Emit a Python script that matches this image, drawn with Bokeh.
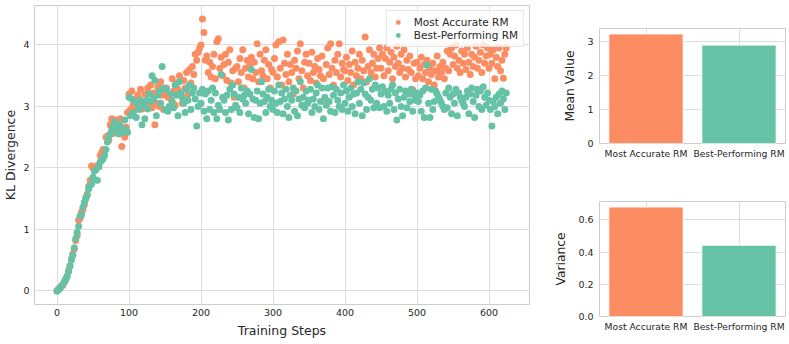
from bokeh.plotting import figure
from bokeh.layouts import row, column
from bokeh.models import Range1d, FactorRange, FixedTicker, Legend, LegendItem, PrintfTickFormatter, ColumnDataSource
from bokeh.embed import file_html
from bokeh.resources import INLINE

# ---------------- data ----------------
# KL divergence logged every 2 training steps (0, 2, ..., 624)
steps = list(range(0, 626, 2))

most_accurate_kl = [
0.00,0.03,0.05,0.08,0.09,0.15,0.18,0.24,0.33,0.41,0.52,0.60,0.68,0.82,0.90,1.15,1.18,1.28,1.32,1.40,1.52,1.58,1.70,1.80,2.03,
2.00,1.98,2.00,2.04,2.02,2.20,2.25,2.30,2.28,2.50,2.52,2.45,2.70,2.80,2.56,2.60,2.78,2.65,2.75,2.80,2.35,2.62,2.50,2.66,2.90,
3.20,2.95,3.25,3.02,2.98,3.08,3.18,3.12,3.28,2.96,3.02,3.20,2.98,3.30,3.05,3.35,2.98,3.22,2.70,3.05,3.32,3.00,3.40,3.18,2.95,
3.22,3.30,3.15,3.00,3.12,3.45,3.25,3.02,3.38,3.28,3.50,3.22,3.05,3.42,3.30,3.55,3.20,3.60,3.38,3.65,3.52,3.85,3.75,3.88,3.95,
4.00,4.42,4.20,3.75,3.82,3.55,3.72,3.48,3.65,3.85,3.45,4.05,4.10,3.62,3.80,3.50,3.68,3.85,3.42,3.72,3.92,3.38,3.58,3.15,3.62,
3.65,3.40,3.78,3.55,3.92,3.30,3.62,3.75,3.48,3.68,3.80,3.45,3.72,3.55,4.02,3.40,3.85,3.58,3.50,3.75,3.92,3.45,3.68,3.30,3.60,
3.55,3.78,4.00,3.48,4.05,3.62,3.35,4.08,3.70,3.52,3.85,3.40,3.68,3.55,3.20,3.75,3.62,3.90,3.45,4.02,3.58,3.30,3.72,3.85,3.50,
3.70,3.42,3.88,3.55,3.65,3.38,3.78,3.60,3.50,3.82,3.45,3.13,3.68,3.95,3.52,4.02,3.62,3.35,3.75,3.55,3.85,4.02,3.48,3.70,3.60,
3.58,3.80,3.42,3.68,3.55,3.90,3.35,3.72,3.50,3.62,3.85,3.45,3.75,3.58,4.13,3.40,3.65,3.92,3.55,3.70,3.85,3.48,3.62,3.78,3.95,
3.62,3.85,3.50,3.78,3.95,3.58,3.72,3.88,3.45,3.80,3.65,3.98,3.70,3.55,3.85,3.62,3.92,3.48,3.75,3.60,3.82,3.55,3.27,3.70,3.45,
3.72,3.50,3.62,3.80,3.45,3.68,3.55,3.75,3.40,3.62,3.52,3.70,3.35,3.58,3.82,3.48,3.65,3.55,3.72,3.45,3.62,3.90,3.58,3.85,3.95,
3.68,3.82,4.00,3.62,3.75,3.55,3.90,3.70,3.85,3.60,3.95,3.72,3.52,3.85,3.65,3.80,3.98,3.62,3.75,3.88,3.55,4.00,3.70,3.82,3.95,
3.62,3.85,3.70,3.92,3.45,3.80,3.65,3.95,3.58,3.75,3.46,3.85,3.95,
]

best_performing_kl = [
0.00,0.02,0.04,0.07,0.10,0.14,0.19,0.24,0.31,0.40,0.50,0.58,0.70,0.85,0.95,1.05,1.22,1.24,1.36,1.44,1.50,1.55,1.66,1.72,1.74,
1.85,1.95,1.97,1.80,2.02,2.10,2.12,2.15,2.20,2.30,2.42,2.50,2.55,2.62,2.66,2.75,2.60,2.70,2.55,2.68,2.58,2.60,2.78,2.62,2.58,
3.15,2.85,3.12,2.90,3.08,2.82,3.05,2.95,3.10,2.70,3.02,2.80,3.10,2.96,3.20,3.08,3.50,3.12,3.42,2.85,3.18,3.25,3.05,3.65,3.30,
2.95,3.28,2.92,3.00,3.20,3.08,2.98,3.35,3.18,2.85,3.40,3.22,3.15,3.05,2.90,3.28,3.10,3.35,2.95,3.22,3.30,3.12,2.68,3.00,3.22,
3.05,3.28,2.92,3.20,2.80,3.25,2.95,3.10,3.30,2.90,3.22,2.80,3.02,2.95,3.52,3.15,3.10,2.90,3.18,2.78,3.28,2.95,3.35,3.20,3.02,
2.98,3.15,2.90,3.30,3.12,3.18,3.05,3.25,2.88,3.20,3.60,3.12,2.82,3.10,3.25,2.80,3.05,3.40,3.20,3.08,2.90,3.15,3.28,3.00,3.10,
2.95,3.25,3.05,2.90,3.35,3.08,3.22,2.88,3.12,3.28,3.00,2.82,3.18,3.10,3.30,2.92,3.25,2.85,3.12,3.40,3.02,3.15,2.98,3.25,3.05,
3.10,3.28,2.90,3.12,3.00,3.22,3.35,2.95,3.08,3.30,2.80,3.15,3.02,3.30,3.08,2.92,3.32,3.18,2.90,3.28,3.10,3.00,3.22,2.95,3.35,
3.05,3.25,2.92,3.15,3.30,3.00,3.20,2.88,3.22,3.40,3.05,3.28,2.85,3.38,3.20,2.95,3.15,3.45,3.10,3.28,2.98,3.35,3.05,3.30,2.98,
3.20,3.32,3.00,3.25,2.92,3.18,3.05,3.28,3.35,2.95,3.22,2.78,3.12,3.28,3.00,2.85,3.15,3.25,2.98,3.20,3.08,3.28,2.92,3.18,3.10,
3.22,3.08,3.18,2.92,3.25,2.82,3.30,3.67,3.05,2.82,3.28,2.95,3.08,3.25,3.20,3.15,3.10,3.05,3.00,2.95,3.22,2.98,3.30,3.15,2.88,
3.20,3.05,3.28,2.85,3.22,3.15,3.10,3.05,3.00,3.15,3.25,2.88,3.20,3.30,3.08,2.82,3.18,3.28,3.00,3.25,2.95,3.32,3.15,3.02,3.22,
3.10,2.95,2.68,3.08,3.00,3.15,2.88,3.20,3.05,3.25,3.12,2.95,3.22,
]

x_ticks = [0, 100, 200, 300, 400, 500, 600]
y_ticks = [0, 1, 2, 3, 4]

categories = ["Most Accurate RM", "Best-Performing RM"]
mean_values = [3.23, 2.90]
variance_values = [0.68, 0.443]
mean_ticks = [0, 1, 2, 3]
variance_ticks = [0.0, 0.2, 0.4, 0.6]

ORANGE = "#fc8d62"
GREEN = "#66c2a5"
bar_colors = [ORANGE, GREEN]

FONT = "DejaVu Sans"
TXT = "#262626"
GRID = "#dddddd"
EDGE = "#cccccc"


def style(p, tick_size="9.5px", label_size="12.5px"):
    p.background_fill_color = "white"
    p.border_fill_color = "white"
    p.outline_line_color = EDGE
    p.outline_line_width = 1
    for ax in p.xaxis + p.yaxis:
        ax.axis_line_color = None
        ax.major_tick_line_color = None
        ax.minor_tick_line_color = None
        ax.major_tick_out = 0
        ax.major_tick_in = 0
        ax.minor_tick_out = 0
        ax.minor_tick_in = 0
        ax.major_label_text_font = FONT
        ax.major_label_text_font_size = tick_size
        ax.major_label_text_color = TXT
        ax.axis_label_text_font = FONT
        ax.axis_label_text_font_size = label_size
        ax.axis_label_text_font_style = "normal"
        ax.axis_label_text_color = TXT
        ax.major_label_standoff = 6
        ax.axis_label_standoff = 6
    for g in p.xgrid + p.ygrid:
        g.grid_line_color = GRID
        g.grid_line_width = 1


# ---------------- left scatter ----------------
n = min(len(steps), len(most_accurate_kl), len(best_performing_kl))
p = figure(width=532, height=344, x_range=Range1d(-31.25, 656.25), y_range=Range1d(-0.221, 4.641),
           output_backend="svg", toolbar_location=None,
           min_border_left=30, min_border_right=3, min_border_top=5, min_border_bottom=40)
style(p)
p.xaxis.ticker = FixedTicker(ticks=x_ticks)
p.yaxis.ticker = FixedTicker(ticks=y_ticks)
p.xaxis.axis_label = "Training Steps"
p.yaxis.axis_label = "KL Divergence"
p.xaxis.major_label_standoff = 4
p.xaxis.axis_label_standoff = 4
p.yaxis.major_label_standoff = 5
p.yaxis.axis_label_standoff = 2

r1 = p.scatter(steps[:n], most_accurate_kl[:n], size=7, fill_color=ORANGE, line_color=None)
r2 = p.scatter(steps[:n], best_performing_kl[:n], size=7, fill_color=GREEN, line_color=None)

legend = Legend(items=[LegendItem(label="Most Accurate RM", renderers=[r1]),
                       LegendItem(label="Best-Performing RM", renderers=[r2])],
                location="top_right")
legend.label_text_font = FONT
legend.label_text_font_size = "10.5px"
legend.label_text_color = TXT
legend.glyph_width = 12
legend.glyph_height = 12
legend.label_height = 12
legend.label_standoff = 10
legend.padding = 5
legend.spacing = 1
legend.margin = 5
legend.border_line_color = EDGE
legend.background_fill_alpha = 0.8
p.add_layout(legend)


# ---------------- right bars ----------------
def bar_fig(values, ticks, label, height, top_border, bottom_border, ymax, fmt=None):
    src = ColumnDataSource(dict(cat=categories, val=values, color=bar_colors))
    b = figure(width=257, height=height, x_range=FactorRange(factors=categories), y_range=Range1d(0, ymax),
               output_backend="svg", toolbar_location=None,
               min_border_left=67, min_border_right=4, min_border_top=top_border, min_border_bottom=bottom_border)
    style(b, tick_size="9.5px", label_size="12.3px")
    b.vbar(x="cat", top="val", width=0.8, fill_color="color", line_color="white", line_width=1, source=src)
    b.yaxis.ticker = FixedTicker(ticks=ticks)
    if fmt:
        b.yaxis.formatter = PrintfTickFormatter(format=fmt)
    b.yaxis.axis_label = label
    b.xaxis.major_label_text_font_size = "9.2px"
    b.xaxis.major_label_standoff = 4
    b.yaxis.major_label_standoff = 6
    b.yaxis.axis_label_standoff = 7
    return b


top = bar_fig(mean_values, mean_ticks, "Mean Value", 172, 28, 29, 3.39)
bottom = bar_fig(variance_values, variance_ticks, "Variance", 172, 29, 28, 0.714, fmt="%.1f")

layout = row(p, column(top, bottom))
open("out.html", "w").write(file_html(layout, INLINE))
